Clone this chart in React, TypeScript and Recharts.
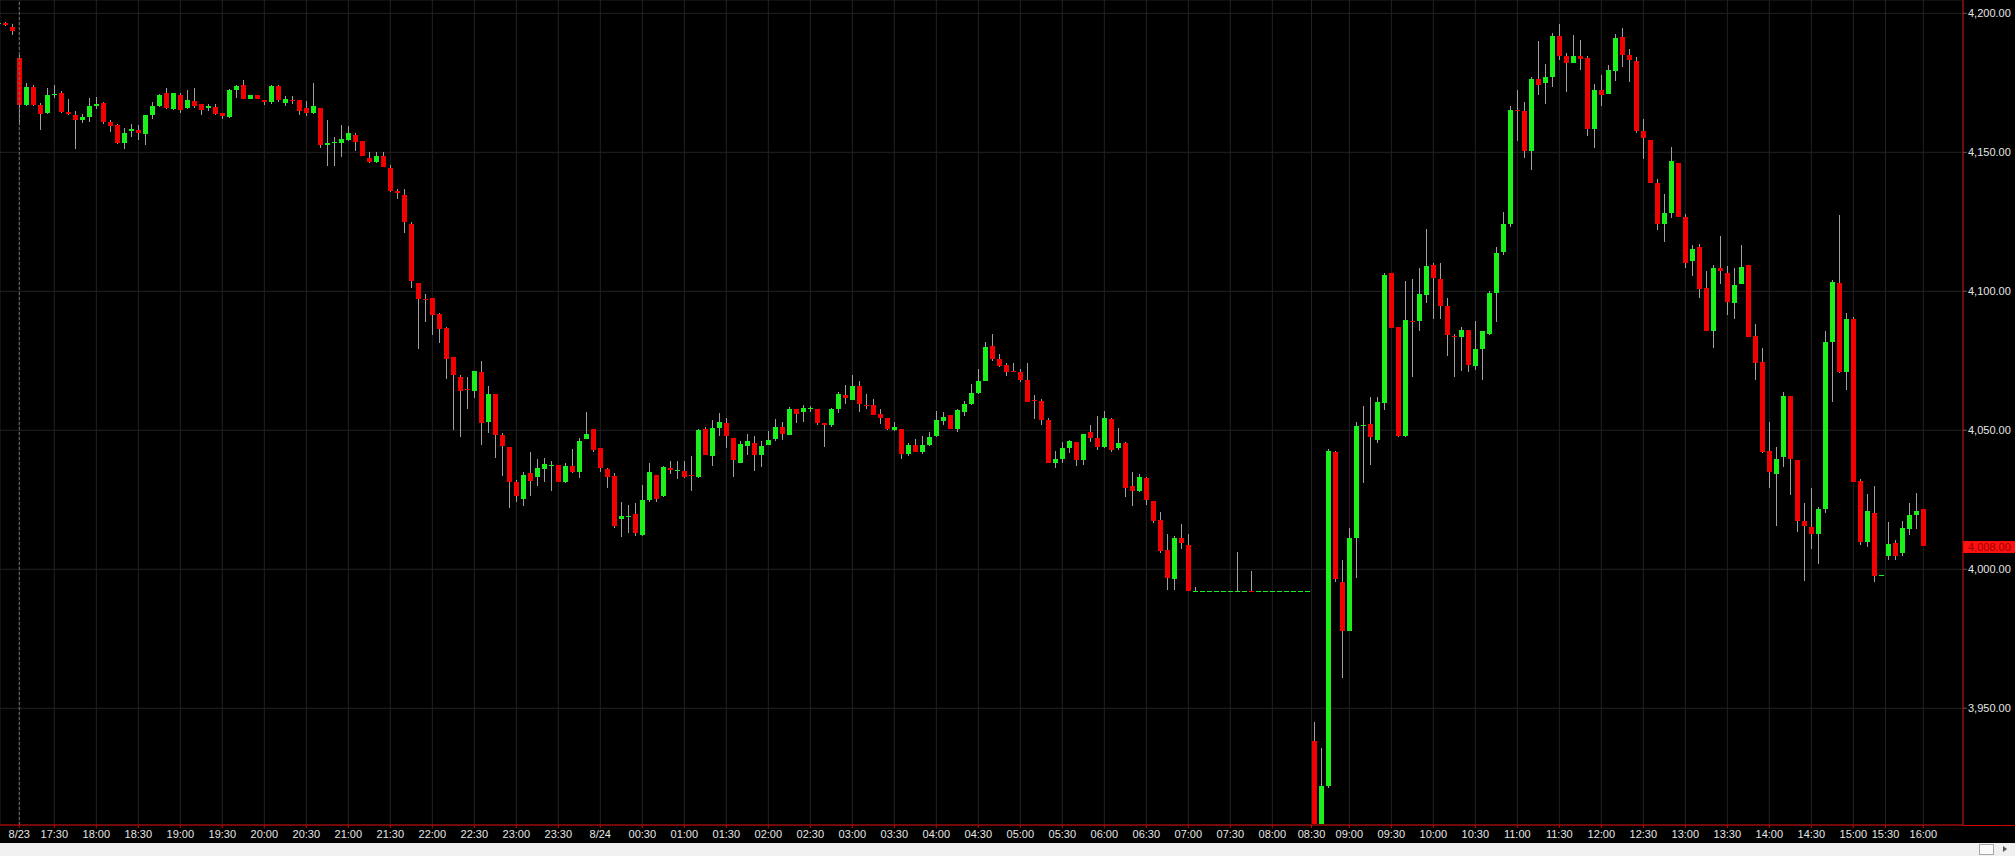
import React from 'react';
import { ComposedChart, Bar, XAxis, YAxis, CartesianGrid, ReferenceLine } from 'recharts';

// 5-minute bars, slot index 0 = 8/23 17:00 session open
const firstIndex = -3;

const opens = [
  4196.3, 4196.6, 4195.1,
  4183.9, 4167.0, 4173.5, 4167.0, 4164.0, 4170.8, 4171.3, 4164.5, 4163.3, 4161.6,
  4162.7, 4166.7, 4167.7, 4160.9, 4159.8, 4153.4, 4157.7, 4158.0, 4156.6, 4163.4,
  4166.7, 4171.3, 4165.6, 4170.6, 4165.9, 4168.5, 4167.4, 4166.0, 4166.3, 4164.1,
  4162.7, 4172.4, 4174.2, 4169.2, 4170.6, 4168.8, 4168.1, 4173.9, 4167.7, 4168.8,
  4168.8, 4165.9, 4164.1, 4166.0, 4152.6, 4153.4, 4153.5, 4154.4, 4156.2, 4154.0,
  4148.0, 4146.6, 4148.7, 4144.2, 4136.2, 4134.5, 4124.2, 4103.0, 4097.4, 4097.5,
  4091.8, 4086.8, 4076.3, 4069.1, 4064.8, 4064.2, 4071.0, 4053.1, 4063.1, 4048.3,
  4043.9, 4031.3, 4025.2, 4034.5, 4033.3, 4036.0, 4037.3, 4037.5, 4031.5, 4037.2,
  4035.1, 4046.8, 4050.4, 4043.5, 4036.1, 4033.6, 4018.1, 4019.0, 4019.9, 4012.5,
  4025.0, 4033.9, 4026.2, 4036.6, 4035.5, 4035.4, 4034.0, 4033.2, 4050.5, 4040.8,
  4050.8, 4052.6, 4047.2, 4038.2, 4044.4, 4045.4, 4041.1, 4044.7, 4046.9, 4051.2,
  4048.3, 4057.7, 4056.6, 4057.7, 4057.7, 4052.6, 4051.9, 4057.7, 4062.7, 4060.9,
  4065.9, 4059.0, 4059.1, 4055.8, 4054.4, 4050.1, 4050.5, 4041.5, 4044.7, 4042.2,
  4044.7, 4047.9, 4053.3, 4055.5, 4050.5, 4056.5, 4059.4, 4063.4, 4067.7, 4080.3,
  4075.7, 4073.5, 4071.4, 4071.1, 4068.1, 4060.8, 4060.7, 4053.7, 4038.4, 4039.7,
  4043.6, 4045.8, 4039.3, 4049.4, 4047.2, 4044.0, 4054.1, 4043.6, 4045.4, 4030.1,
  4028.2, 4033.0, 4024.6, 4017.7, 4007.0, 3996.5, 4011.3, 4008.8, 3992.2, 3992.2,
  3992.2, 3992.2, 3992.2, 3992.2, 3992.2, 3992.2, 3992.3, 3992.2, 3992.2, 3992.2,
  3992.2, 3992.2, 3992.2, 3992.2, 3992.2, 3938.2, 3908.5, 3922.0, 4042.2, 3995.3,
  3977.8, 4011.3, 4051.5, 4052.3, 4046.5, 4059.9, 4106.5, 4087.1, 4048.1, 4089.4,
  4089.4, 4098.7, 4109.5, 4104.4, 4094.7, 4083.9, 4083.7, 4086.1, 4073.3, 4079.3,
  4084.6, 4099.5, 4114.0, 4124.2, 4165.3, 4164.9, 4150.6, 4176.3, 4175.1, 4177.2,
  4191.8, 4184.7, 4182.3, 4184.7, 4183.8, 4158.4, 4172.4, 4171.0, 4179.4, 4191.4,
  4185.0, 4182.9, 4157.7, 4154.4, 4139.1, 4124.1, 4128.2, 4146.1, 4126.7, 4110.8,
  4116.1, 4101.2, 4085.6, 4108.5, 4106.5, 4095.9, 4102.7, 4109.6, 4083.9, 4074.6,
  4042.7, 4034.4, 4040.3, 4062.5, 4039.4, 4017.2, 4015.2, 4012.8, 4021.8, 4081.9,
  4102.9, 4070.9, 4089.9, 4031.6, 4009.7, 4020.3, 3997.6, 4004.8, 4009.4, 4005.7,
  4014.4, 4019.4, 4021.8,
];

const highs = [
  4196.6, 4197.0, 4196.2,
  4185.0, 4175.0, 4174.2, 4167.6, 4173.1, 4174.2, 4172.0, 4169.2, 4164.9, 4163.7,
  4169.5, 4169.8, 4168.2, 4161.6, 4160.2, 4158.8, 4160.2, 4159.8, 4163.4, 4168.1,
  4171.0, 4173.1, 4171.3, 4171.3, 4172.4, 4173.1, 4167.4, 4167.4, 4167.4, 4164.1,
  4172.7, 4174.2, 4176.0, 4170.6, 4170.6, 4168.8, 4174.2, 4174.2, 4170.3, 4170.3,
  4168.8, 4168.5, 4174.9, 4166.0, 4161.6, 4155.4, 4160.0, 4159.6, 4156.8, 4154.2,
  4150.2, 4150.2, 4150.0, 4145.3, 4136.8, 4136.8, 4125.1, 4103.0, 4099.0, 4097.5,
  4092.1, 4087.1, 4076.3, 4069.8, 4069.1, 4071.5, 4075.1, 4065.9, 4063.1, 4048.9,
  4044.1, 4032.1, 4035.1, 4042.3, 4039.6, 4039.9, 4039.1, 4037.5, 4038.1, 4043.3,
  4047.1, 4056.6, 4050.4, 4043.5, 4036.6, 4034.5, 4024.2, 4023.3, 4023.7, 4030.3,
  4038.1, 4033.9, 4037.0, 4039.0, 4039.0, 4039.0, 4040.8, 4050.6, 4051.1, 4053.7,
  4056.2, 4054.4, 4047.2, 4046.2, 4048.7, 4047.9, 4046.2, 4049.8, 4054.1, 4053.0,
  4058.4, 4057.7, 4059.1, 4058.7, 4057.7, 4052.6, 4058.0, 4063.8, 4066.3, 4069.9,
  4067.7, 4063.0, 4061.3, 4057.7, 4054.4, 4053.0, 4050.5, 4045.4, 4046.9, 4047.9,
  4049.4, 4056.9, 4056.5, 4055.5, 4057.7, 4060.5, 4066.7, 4072.1, 4081.8, 4084.7,
  4077.5, 4074.1, 4074.1, 4072.1, 4074.1, 4062.7, 4061.1, 4054.3, 4042.5, 4045.8,
  4046.5, 4045.8, 4048.7, 4051.9, 4055.1, 4056.9, 4054.4, 4050.8, 4045.8, 4035.0,
  4034.3, 4033.3, 4024.6, 4020.5, 4012.7, 4012.0, 4016.3, 4012.7, 3993.6, 3992.3,
  3992.3, 3992.3, 3992.3, 3992.3, 4006.2, 3992.3, 3999.4, 3992.3, 3992.3, 3992.3,
  3992.3, 3992.3, 3992.3, 3992.3, 3992.3, 3944.9, 3935.8, 4043.3, 4042.6, 4003.4,
  4014.7, 4052.9, 4058.8, 4062.1, 4061.9, 4106.7, 4106.7, 4087.1, 4103.7, 4104.4,
  4108.5, 4122.4, 4110.1, 4110.1, 4097.5, 4084.5, 4087.1, 4086.1, 4089.4, 4085.7,
  4100.2, 4115.8, 4128.5, 4166.7, 4172.4, 4168.2, 4177.0, 4190.0, 4181.7, 4192.8,
  4196.0, 4185.6, 4192.2, 4190.4, 4184.7, 4174.6, 4177.8, 4181.4, 4192.4, 4194.6,
  4187.1, 4184.2, 4162.0, 4154.4, 4140.4, 4135.1, 4152.0, 4146.3, 4127.8, 4116.8,
  4117.0, 4107.2, 4109.6, 4119.8, 4109.2, 4108.5, 4116.8, 4109.6, 4088.3, 4079.5,
  4053.1, 4044.0, 4063.6, 4062.5, 4039.4, 4023.7, 4029.4, 4022.5, 4085.6, 4103.9,
  4127.5, 4092.2, 4090.6, 4032.4, 4027.1, 4029.8, 3997.8, 4017.0, 4010.4, 4017.2,
  4023.8, 4027.6, 4021.8,
];

const lows = [
  4196.2, 4195.4, 4192.3,
  4159.8, 4166.5, 4166.7, 4158.0, 4163.8, 4169.7, 4164.3, 4163.4, 4151.2, 4160.7,
  4160.9, 4165.6, 4160.2, 4157.3, 4153.0, 4151.2, 4155.5, 4154.4, 4152.6, 4162.0,
  4166.4, 4165.6, 4165.2, 4164.1, 4165.6, 4165.9, 4163.4, 4164.9, 4163.4, 4162.0,
  4162.3, 4169.5, 4169.2, 4169.2, 4169.2, 4167.0, 4167.4, 4168.1, 4166.7, 4167.4,
  4163.4, 4163.0, 4163.8, 4151.6, 4145.0, 4145.2, 4148.2, 4154.2, 4150.6, 4148.6,
  4146.0, 4146.3, 4144.8, 4135.9, 4133.1, 4120.9, 4101.1, 4079.4, 4089.1, 4084.3,
  4081.5, 4068.3, 4050.1, 4047.5, 4057.8, 4061.5, 4044.7, 4048.9, 4039.9, 4033.7,
  4022.1, 4024.2, 4022.7, 4026.2, 4030.1, 4031.5, 4028.3, 4031.5, 4030.9, 4034.8,
  4032.7, 4046.8, 4042.3, 4035.1, 4029.4, 4014.7, 4011.6, 4013.1, 4011.9, 4012.1,
  4024.2, 4024.2, 4026.0, 4034.2, 4032.6, 4033.0, 4028.3, 4033.0, 4041.1, 4037.2,
  4047.9, 4043.6, 4033.2, 4038.2, 4041.1, 4035.4, 4036.8, 4044.7, 4046.2, 4046.5,
  4048.3, 4052.6, 4053.0, 4056.5, 4051.9, 4044.0, 4051.2, 4056.2, 4059.4, 4060.9,
  4056.5, 4057.7, 4055.5, 4052.3, 4050.1, 4049.8, 4039.7, 4040.8, 4042.2, 4041.5,
  4044.4, 4047.6, 4051.9, 4050.5, 4049.4, 4055.1, 4059.1, 4063.0, 4067.7, 4074.9,
  4072.8, 4069.5, 4071.1, 4067.5, 4060.3, 4053.9, 4051.9, 4038.4, 4036.6, 4038.4,
  4041.7, 4037.2, 4037.5, 4045.8, 4042.9, 4043.6, 4042.2, 4042.9, 4026.1, 4022.8,
  4027.7, 4023.1, 4016.5, 4005.8, 3992.6, 3992.6, 4007.3, 3992.2, 3992.1, 3992.2,
  3992.2, 3992.2, 3992.2, 3992.2, 3992.2, 3992.2, 3992.2, 3992.2, 3992.2, 3992.2,
  3992.2, 3992.2, 3992.2, 3992.2, 3992.2, 3908.2, 3908.2, 3921.2, 3995.3, 3961.0,
  3977.8, 3997.0, 4031.0, 4037.5, 4045.6, 4057.3, 4086.7, 4047.5, 4047.7, 4069.3,
  4085.9, 4095.9, 4090.0, 4090.0, 4076.7, 4069.3, 4071.5, 4071.1, 4071.7, 4068.1,
  4084.3, 4089.0, 4113.1, 4123.0, 4154.2, 4147.8, 4143.6, 4170.6, 4167.4, 4173.4,
  4183.2, 4171.8, 4182.0, 4179.6, 4155.9, 4151.7, 4166.7, 4171.0, 4175.8, 4180.6,
  4175.4, 4157.1, 4147.5, 4139.1, 4122.1, 4117.8, 4126.2, 4126.7, 4108.5, 4105.6,
  4097.5, 4085.6, 4079.5, 4102.5, 4091.6, 4089.9, 4102.5, 4083.6, 4068.0, 4042.0,
  4029.4, 4015.4, 4036.7, 4026.7, 4013.4, 3995.7, 4007.2, 4001.9, 4020.1, 4060.0,
  4070.7, 4064.4, 4031.4, 4008.8, 4008.1, 3995.5, 3997.6, 4003.2, 4003.2, 4004.8,
  4012.4, 4014.4, 4008.4,
];

const closes = [
  4196.5, 4195.7, 4193.7,
  4167.0, 4173.5, 4167.0, 4163.8, 4170.6, 4171.0, 4164.5, 4163.8, 4161.6, 4162.7,
  4166.7, 4167.4, 4160.9, 4159.5, 4153.4, 4157.0, 4158.4, 4157.0, 4163.4, 4166.7,
  4170.6, 4165.9, 4171.3, 4165.2, 4168.8, 4166.7, 4165.2, 4166.7, 4163.8, 4163.0,
  4172.4, 4173.9, 4169.2, 4170.6, 4169.2, 4168.1, 4173.9, 4168.8, 4169.2, 4168.5,
  4164.9, 4164.1, 4166.7, 4152.6, 4153.4, 4153.7, 4154.7, 4156.8, 4153.8, 4148.8,
  4146.6, 4148.7, 4144.8, 4136.2, 4135.3, 4125.1, 4103.8, 4097.2, 4097.2, 4091.5,
  4086.5, 4075.8, 4069.9, 4064.2, 4064.6, 4071.5, 4052.7, 4063.1, 4048.3, 4044.5,
  4031.3, 4026.2, 4033.9, 4031.9, 4036.5, 4037.9, 4037.5, 4031.5, 4037.2, 4035.1,
  4046.3, 4048.7, 4042.9, 4036.3, 4033.1, 4015.5, 4019.3, 4019.2, 4013.1, 4025.0,
  4035.0, 4025.2, 4036.7, 4035.7, 4035.7, 4033.2, 4033.8, 4050.2, 4041.1, 4050.8,
  4053.0, 4047.9, 4039.3, 4045.1, 4046.2, 4041.1, 4044.4, 4046.5, 4051.2, 4048.7,
  4057.7, 4055.8, 4058.0, 4057.9, 4052.6, 4052.0, 4057.7, 4063.0, 4061.6, 4065.9,
  4059.4, 4058.8, 4055.5, 4054.4, 4050.5, 4051.2, 4041.5, 4044.7, 4042.2, 4044.7,
  4047.6, 4053.7, 4054.8, 4050.5, 4057.3, 4059.4, 4063.4, 4067.7, 4080.0, 4075.7,
  4073.1, 4071.1, 4071.2, 4068.1, 4060.3, 4060.6, 4053.7, 4038.4, 4039.7, 4043.6,
  4046.2, 4039.3, 4048.7, 4047.2, 4044.0, 4054.4, 4042.9, 4045.4, 4029.4, 4028.2,
  4033.3, 4024.9, 4017.4, 4006.6, 3996.9, 4011.3, 4009.4, 3992.2, 3992.3, 3992.3,
  3992.3, 3992.3, 3992.3, 3992.3, 3992.3, 3992.3, 3992.2, 3992.3, 3992.3, 3992.3,
  3992.3, 3992.3, 3992.3, 3992.3, 3992.3, 3908.5, 3922.0, 4042.6, 3996.5, 3977.8,
  4011.3, 4051.7, 4051.8, 4047.7, 4060.1, 4105.8, 4086.7, 4047.9, 4089.7, 4089.2,
  4099.0, 4109.1, 4104.7, 4094.8, 4084.3, 4083.7, 4086.1, 4073.5, 4079.3, 4085.7,
  4099.5, 4113.7, 4124.2, 4165.2, 4165.1, 4150.6, 4176.4, 4174.2, 4177.0, 4191.8,
  4184.8, 4182.0, 4184.7, 4183.5, 4158.4, 4172.4, 4170.6, 4179.6, 4191.0, 4185.0,
  4183.2, 4157.7, 4155.0, 4139.1, 4124.1, 4128.2, 4146.9, 4126.9, 4110.2, 4115.4,
  4100.9, 4085.6, 4108.5, 4107.2, 4096.3, 4102.1, 4108.8, 4083.6, 4074.3, 4042.3,
  4035.1, 4039.6, 4062.2, 4039.8, 4017.2, 4015.4, 4012.8, 4021.8, 4081.6, 4103.2,
  4070.9, 4090.2, 4031.4, 4009.7, 4021.1, 3997.7, 3997.8, 4009.0, 4004.8, 4014.8,
  4019.4, 4021.1, 4008.4,
];

// slot positions of the time labels (fractional where bars are missing)
const timeTickIndex = [
  0, 5, 11, 17, 23, 29, 35, 41, 47, 53, 59, 65, 71, 77, 83, 89, 95, 101, 107, 113,
  119, 125, 131, 137, 143, 149, 155, 161, 167, 173, 179, 184.6, 190, 196, 202, 208,
  214, 220, 226, 232, 238, 244, 250, 256, 262, 266.6, 272,
];
const timeTickLabels = [
  '8/23', '17:30', '18:00', '18:30', '19:00', '19:30', '20:00', '20:30', '21:00',
  '21:30', '22:00', '22:30', '23:00', '23:30', '8/24', '00:30', '01:00', '01:30',
  '02:00', '02:30', '03:00', '03:30', '04:00', '04:30', '05:00', '05:30', '06:00',
  '06:30', '07:00', '07:30', '08:00', '08:30', '09:00', '09:30', '10:00', '10:30',
  '11:00', '11:30', '12:00', '12:30', '13:00', '13:30', '14:00', '14:30', '15:00',
  '15:30', '16:00',
];
const priceTicks = [3950, 4000, 4050, 4100, 4150, 4200];
const lastPrice = 4008;

const UP = '#1cf01c';
const DOWN = '#f20000';
const AXIS_RED = '#d40000';
const FONT = '"Liberation Sans", Arial, sans-serif';

const data = opens.map((o, i) => ({
  idx: firstIndex + i,
  open: o,
  high: highs[i],
  low: lows[i],
  close: closes[i],
}));

const fmtPrice = (v: number) =>
  v.toLocaleString('en-US', { minimumFractionDigits: 2, maximumFractionDigits: 2 });

function Candle(props: any) {
  const { x, y, width, height, payload } = props;
  if (!payload || x == null || y == null) return null;
  const { open, high, low, close } = payload;
  const top = Math.min(y, y + height);
  const bottom = Math.max(y, y + height);
  const span = high - low;
  const ppu = span > 0 ? (bottom - top) / span : 0;
  const yOf = (v: number) => top + (high - v) * ppu;
  const cx = Math.round(x + width / 2);
  const up = close >= open;
  const bTop = Math.round(yOf(Math.max(open, close)));
  const bBot = Math.round(yOf(Math.min(open, close)));
  return (
    <g shapeRendering="crispEdges">
      <line x1={cx + 0.5} x2={cx + 0.5} y1={Math.round(top)} y2={Math.round(bottom)} stroke="#a0a0a0" strokeWidth={1} />
      <rect x={cx - 2} y={bTop} width={5} height={Math.max(1, bBot - bTop)} fill={up ? UP : DOWN} />
    </g>
  );
}

function PriceTag(props: any) {
  const { viewBox } = props;
  if (!viewBox) return null;
  const right = viewBox.x + viewBox.width;
  return (
    <g>
      <rect x={right} y={viewBox.y - 6} width={52} height={12} fill="#ff1010" />
      <text x={right + 5} y={viewBox.y + 4} fill="#9a0000" fontSize={11} fontFamily={FONT}>
        {fmtPrice(lastPrice)}
      </text>
    </g>
  );
}

export default function App() {
  return (
    <div style={{ width: 2015, height: 856, background: '#000', position: 'relative', overflow: 'hidden' }}>
      <style>{'body{margin:0;background:#000}'}</style>
      <ComposedChart width={2015} height={843} data={data} margin={{ top: 0, right: 0, bottom: 0, left: 0 }}>
        <CartesianGrid stroke="#222222" strokeWidth={1} />
        <XAxis
          type="number"
          dataKey="idx"
          domain={[-2.757, 277.67]}
          allowDataOverflow
          ticks={timeTickIndex}
          interval={0}
          height={18}
          tickFormatter={(v: number) => timeTickLabels[timeTickIndex.indexOf(v)] ?? ''}
          axisLine={{ stroke: AXIS_RED }}
          tickLine={{ stroke: AXIS_RED }}
          tickSize={3}
          tickMargin={2}
          tick={{ fill: '#e6e6e6', fontSize: 11, fontFamily: FONT }}
        />
        <YAxis
          orientation="right"
          domain={[3908, 4204.8]}
          allowDataOverflow
          ticks={priceTicks}
          interval={0}
          width={52}
          tickFormatter={fmtPrice}
          axisLine={{ stroke: AXIS_RED }}
          tickLine={{ stroke: '#5a5a5a' }}
          tickSize={4}
          tickMargin={1}
          tick={{ fill: '#e6e6e6', fontSize: 11, fontFamily: FONT }}
        />
        <ReferenceLine x={0} stroke="#6e6e6e" strokeDasharray="3 2" />
        <Bar
          dataKey={(d: any) => [d.low, d.high]}
          barSize={7}
          shape={<Candle />}
          isAnimationActive={false}
        />
        <ReferenceLine y={lastPrice} stroke="none" label={<PriceTag />} />
      </ComposedChart>
      <div style={{ position: 'absolute', left: 1963, top: 825, width: 52, height: 1, background: AXIS_RED }} />
      <div style={{ position: 'absolute', left: 0, top: 843, width: 2015, height: 13, background: '#f0f0f0' }}>
        <div style={{ position: 'absolute', left: 1979, top: 1, width: 15, height: 11, border: '1px solid #a8a8a8', boxSizing: 'border-box', background: '#fafafa' }} />
        <div style={{ position: 'absolute', left: 2003, top: 3, width: 0, height: 0, borderTop: '3px solid transparent', borderBottom: '3px solid transparent', borderLeft: '4px solid #555' }} />
      </div>
    </div>
  );
}
